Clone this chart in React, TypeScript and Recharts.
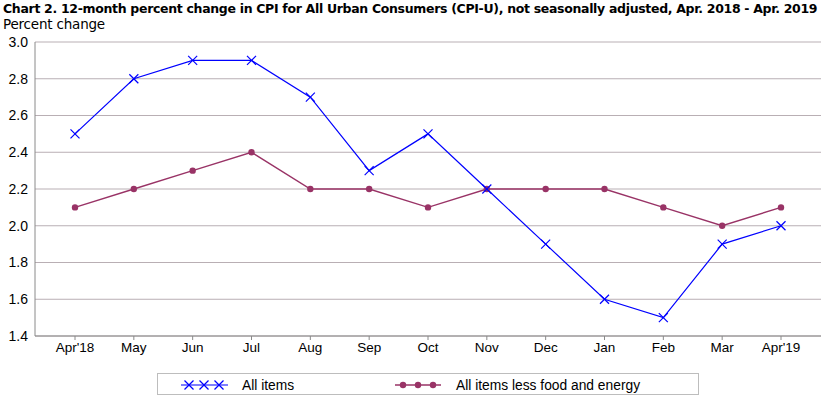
import React from 'react';
import { LineChart, Line, XAxis, YAxis, CartesianGrid } from 'recharts';

const months = ["Apr'18", 'May', 'Jun', 'Jul', 'Aug', 'Sep', 'Oct', 'Nov', 'Dec', 'Jan', 'Feb', 'Mar', "Apr'19"];
const allItems = [2.5, 2.8, 2.9, 2.9, 2.7, 2.3, 2.5, 2.2, 1.9, 1.6, 1.5, 1.9, 2.0];
const coreItems = [2.1, 2.2, 2.3, 2.4, 2.2, 2.2, 2.1, 2.2, 2.2, 2.2, 2.1, 2.0, 2.1];
const yTicks = [1.4, 1.6, 1.8, 2.0, 2.2, 2.4, 2.6, 2.8, 3.0];

const BLUE = '#0000ff';
const MAROON = '#993366';
const FRAME = '#8a8a8a';
const GRID = '#b9afb4';
const FONT = '"Liberation Sans", Arial, sans-serif';
const TITLE_FONT = '"DejaVu Sans", Verdana, sans-serif';

const data = months.map((m, i) => ({ month: m, all: allItems[i], core: coreItems[i] }));

// X-shaped marker used by the "All items" series
const CrossDot = (props: any) => {
  const { cx, cy } = props;
  if (cx == null || cy == null) return null;
  const s = 4.5;
  return (
    <g stroke={BLUE} strokeWidth={1.2}>
      <line x1={cx - s} y1={cy - s} x2={cx + s} y2={cy + s} />
      <line x1={cx - s} y1={cy + s} x2={cx + s} y2={cy - s} />
    </g>
  );
};

const RoundDot = (props: any) => {
  const { cx, cy } = props;
  if (cx == null || cy == null) return null;
  return <circle cx={cx} cy={cy} r={3.2} fill={MAROON} stroke="none" />;
};

const LegendBox = () => (
  <div
    style={{
      position: 'absolute',
      left: 157,
      top: 373,
      width: 542,
      height: 22,
      border: '1px solid #bdbdbd',
      boxSizing: 'border-box',
    }}
  >
    <svg width={542} height={22} style={{ position: 'absolute', left: 0, top: 0 }}>
      <line x1={23} y1={11} x2={70} y2={11} stroke={BLUE} strokeWidth={1.2} />
      {[31, 46, 61].map((x) => (
        <CrossDot key={x} cx={x} cy={11} />
      ))}
      <line x1={237} y1={11} x2={283} y2={11} stroke={MAROON} strokeWidth={1.4} />
      {[245, 260, 275].map((x) => (
        <RoundDot key={x} cx={x} cy={11} />
      ))}
      <text x={84} y={16} fontFamily={FONT} fontSize={13.8}>All items</text>
      <text x={298} y={16} fontFamily={FONT} fontSize={13.8}>All items less food and energy</text>
    </svg>
  </div>
);

const App = () => {
  return (
    <div style={{ position: 'relative', width: 824, height: 399, background: '#fff', overflow: 'hidden' }}>
      <style>{'body{margin:0}'}</style>
      <div
        style={{
          position: 'absolute',
          left: 3,
          top: 1,
          fontFamily: TITLE_FONT,
          fontWeight: 'bold',
          fontSize: 12.5,
          whiteSpace: 'nowrap',
          letterSpacing: -0.32,
        }}
      >
        Chart 2. 12-month percent change in CPI for All Urban Consumers (CPI-U), not seasonally adjusted, Apr. 2018 - Apr. 2019
      </div>
      <div style={{ position: 'absolute', left: 3, top: 16, fontFamily: TITLE_FONT, fontSize: 13.5, letterSpacing: -0.2 }}>
        Percent change
      </div>
      <div style={{ position: 'absolute', left: 0, top: 0 }}>
        <LineChart width={824} height={399} data={data} margin={{ top: 42, right: 3, bottom: 38, left: 0 }}>
          <CartesianGrid vertical={false} stroke={GRID} strokeWidth={1} />
          <XAxis
            dataKey="month"
            scale="point"
            padding={{ left: 40, right: 40 }}
            height={25}
            axisLine={{ stroke: FRAME }}
            tickLine={{ stroke: FRAME }}
            tickSize={4}
            tick={{ fill: '#000', fontSize: 13.5, fontFamily: FONT }}
            interval={0}
          />
          <XAxis xAxisId="top" orientation="top" dataKey="month" height={0} tick={false} tickLine={false} axisLine={{ stroke: FRAME }} />
          <YAxis
            domain={[1.4, 3.0]}
            ticks={yTicks}
            width={35}
            axisLine={{ stroke: FRAME }}
            tickLine={false}
            tickFormatter={(v: number) => v.toFixed(1)}
            tick={{ fill: '#000', fontSize: 14, fontFamily: FONT, dx: 1 }}
          />
          <YAxis yAxisId="right" orientation="right" width={0} tick={false} tickLine={false} axisLine={{ stroke: FRAME }} />
          <Line
            dataKey="core"
            stroke={MAROON}
            strokeWidth={1.4}
            dot={<RoundDot />}
            activeDot={false}
            isAnimationActive={false}
          />
          <Line
            dataKey="all"
            stroke={BLUE}
            strokeWidth={1.2}
            dot={<CrossDot />}
            activeDot={false}
            isAnimationActive={false}
          />
        </LineChart>
      </div>
      <LegendBox />
    </div>
  );
};

export default App;
